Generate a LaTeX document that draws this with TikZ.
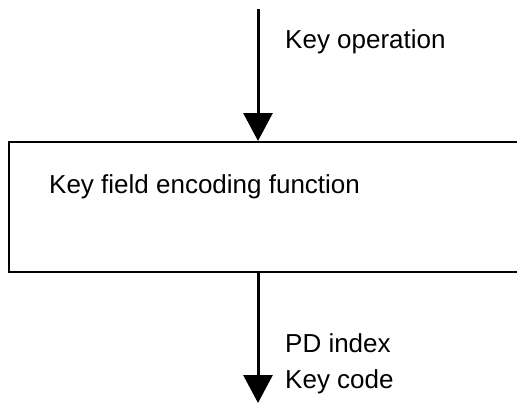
\documentclass[tikz,border=0pt]{standalone}
\usepackage{fontspec}
\setmainfont{Liberation Sans}
\usetikzlibrary{arrows.meta}
\begin{document}
\begin{tikzpicture}[x=1pt,y=-1pt,
  flow/.style={line width=3pt,-{Triangle[width=29pt,length=28pt]}},
  block/.style={draw,line width=2pt,rectangle,inner sep=0pt},
  lbl/.style={anchor=base west,inner sep=0pt,font=\fontsize{26}{31}\selectfont}]
\useasboundingbox (0,0) rectangle (517,402);
\clip (0,0) rectangle (517,402);
% function block, running off the right edge
\node[block,minimum width=530pt,minimum height=130pt,anchor=north west] (enc) at (8,141) {};
\node[lbl] (enclbl) at (49,193) {Key field encoding function};
% incoming key operation
\coordinate (src) at (258,9);
\draw[flow] (src) -- (src |- enc.north);
\node[lbl] (oplbl) at (285,48) {Key operation};
% outgoing results
\coordinate (dst) at (258,403);
\draw[flow] (dst |- enc.south) -- (dst);
\node[lbl] (pdlbl) at (285,352) {PD index};
\node[lbl] (kclbl) at (285,388) {Key code};
\end{tikzpicture}
\end{document}
